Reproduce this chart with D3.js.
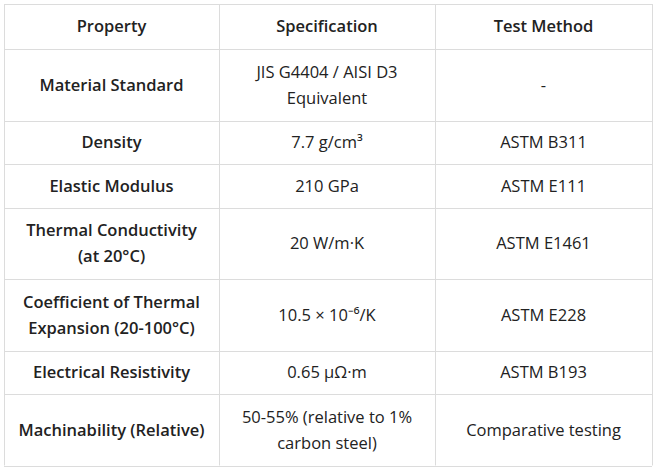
<!DOCTYPE html><html><head><meta charset="utf-8"><script src="https://cdn.jsdelivr.net/npm/d3@7"></script>
<style>body{margin:0;background:#fff}</style></head><body><svg id="c" width="654" height="470"></svg>
<script>
const headers=["Property","Specification","Test Method"];
const properties=[["Material Standard"],["Density"],["Elastic Modulus"],["Thermal Conductivity","(at 20°C)"],["Coefficient of Thermal","Expansion (20-100°C)"],["Electrical Resistivity"],["Machinability (Relative)"]];
const specifications=[["JIS G4404 / AISI D3","Equivalent"],["7.7 g/cm³"],["210 GPa"],["20 W/m·K"],["10.5 × 10⁻⁶/K"],["0.65 μΩ·m"],["50-55% (relative to 1%","carbon steel)"]];
const methods=[["-"],["ASTM B311"],["ASTM E111"],["ASTM E1461"],["ASTM E228"],["ASTM B193"],["Comparative testing"]];
const svg=d3.select("#c");
const colX=[4,219,435,652];
const rows=[{cells:headers.map(h=>[h]),head:true}].concat(properties.map((p,i)=>({cells:[p,specifications[i],methods[i]],head:false})));
let y=4;const ys=[y];
rows.forEach(r=>{const n=d3.max(r.cells,c=>c.length);r.y=y;r.h=r.head?45:(n>1?71.5:43.5);y+=r.h;ys.push(y);});
const g=svg.append("g");
ys.forEach(v=>g.append("line").attr("x1",colX[0]).attr("x2",colX[3]).attr("y1",Math.round(v)+0.5).attr("y2",Math.round(v)+0.5).attr("stroke","#dcdcdc"));
colX.forEach(v=>g.append("line").attr("x1",v+0.5).attr("x2",v+0.5).attr("y1",ys[0]).attr("y2",ys[ys.length-1]).attr("stroke","#dcdcdc"));
rows.forEach(r=>{r.cells.forEach((lines,ci)=>{const cx=(colX[ci]+colX[ci+1])/2;const cy=r.y+r.h/2;const bold=r.head||ci==0;
lines.forEach((t,li)=>{g.append("text").attr("x",cx).attr("y",cy+(li-(lines.length-1)/2)*26).attr("dy","0.35em").attr("text-anchor","middle")
.attr("font-family","Open Sans, sans-serif").attr("font-size",16.5).attr("font-weight",bold?600:400).attr("fill","#222").text(t);});});});
</script></body></html>
